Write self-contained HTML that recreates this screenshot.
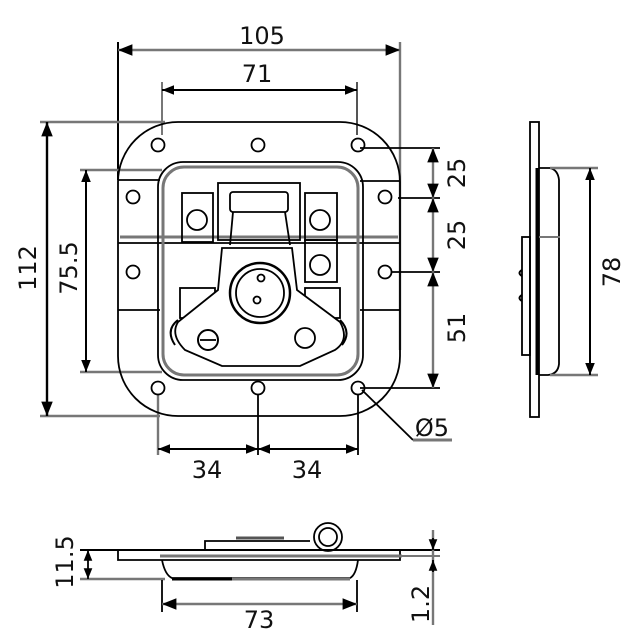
<!DOCTYPE html>
<html><head><meta charset="utf-8"><style>
html,body{margin:0;padding:0;background:#fff;}
svg{display:block;}
text{font-family:"DejaVu Sans","Liberation Sans",sans-serif;font-size:24px;fill:#111;}
</style></head><body>
<svg width="627" height="640" viewBox="0 0 627 640" xmlns="http://www.w3.org/2000/svg">
<defs>
<marker id="a" viewBox="0 0 10 10" refX="10" refY="5" markerWidth="6" markerHeight="6" orient="auto-start-reverse"><path d="M0,1 L10,5 L0,9 z" fill="#000"/></marker>
</defs>
<g fill="none" stroke="#000" stroke-width="1.8">
<line x1="118" y1="42" x2="118" y2="180" stroke-width="2"/>
<line x1="400" y1="42" x2="400" y2="350" stroke="#777" stroke-width="2.4"/>
<line x1="162" y1="82" x2="162" y2="135" stroke="#777" stroke-width="2"/>
<line x1="357" y1="82" x2="357" y2="135" stroke="#555" stroke-width="2"/>
<line x1="40" y1="122" x2="165" y2="122" stroke="#777" stroke-width="2.4"/>
<line x1="40" y1="416" x2="160" y2="416" stroke="#777" stroke-width="2.4"/>
<line x1="80" y1="170" x2="162" y2="170" stroke="#777" stroke-width="2.4"/>
<line x1="80" y1="372" x2="162" y2="372" stroke="#777" stroke-width="2.4"/>
<line x1="360" y1="148" x2="440" y2="148"/>
<line x1="398" y1="198" x2="440" y2="198"/>
<line x1="392" y1="272" x2="440" y2="272"/>
<line x1="360" y1="388" x2="440" y2="388"/>
<line x1="158" y1="395" x2="158" y2="455" stroke="#777" stroke-width="2.4"/>
<line x1="258" y1="395" x2="258" y2="455"/>
<line x1="358" y1="395" x2="358" y2="455"/>
<line x1="118" y1="50" x2="400" y2="50" stroke="#777" stroke-width="2.4" marker-start="url(#a)" marker-end="url(#a)"/>
<line x1="162" y1="90" x2="357" y2="90" stroke-width="2" marker-start="url(#a)" marker-end="url(#a)"/>
<line x1="47" y1="122" x2="47" y2="416" stroke-width="2.4" marker-start="url(#a)" marker-end="url(#a)"/>
<line x1="86" y1="170" x2="86" y2="372" stroke-width="2" marker-start="url(#a)" marker-end="url(#a)"/>
<line x1="433" y1="148" x2="433" y2="198" stroke="#777" stroke-width="2.4" marker-start="url(#a)" marker-end="url(#a)"/>
<line x1="433" y1="198" x2="433" y2="272" stroke="#777" stroke-width="2.4" marker-start="url(#a)" marker-end="url(#a)"/>
<line x1="433" y1="272" x2="433" y2="388" stroke="#777" stroke-width="2.4" marker-start="url(#a)" marker-end="url(#a)"/>
<line x1="158" y1="449" x2="258" y2="449" stroke-width="2" marker-start="url(#a)" marker-end="url(#a)"/>
<line x1="258" y1="449" x2="358" y2="449" stroke-width="2" marker-start="url(#a)" marker-end="url(#a)"/>
<polyline points="362,390 413,440"/>
<line x1="413" y1="440" x2="452" y2="440" stroke="#777" stroke-width="3"/>
<rect x="118" y="122" width="282" height="294" rx="60" ry="60"/>
<line x1="118" y1="180" x2="160" y2="180"/>
<line x1="120" y1="237" x2="398" y2="237" stroke="#777" stroke-width="3"/>
<line x1="118" y1="243" x2="400" y2="243"/>
<line x1="118" y1="310" x2="160" y2="310"/>
<line x1="360" y1="310" x2="400" y2="310"/>
<line x1="360" y1="181" x2="400" y2="181"/>
<rect x="158" y="162" width="205" height="218" rx="25"/>
<rect x="163" y="167" width="195" height="208" rx="21" stroke="#777" stroke-width="3"/>
<g>
<circle cx="158" cy="145" r="6.5"/><circle cx="258" cy="145" r="6.5"/><circle cx="358" cy="145" r="6.5"/>
<circle cx="133" cy="197" r="6.5"/><circle cx="385" cy="197" r="6.5"/>
<circle cx="133" cy="272" r="6.5"/><circle cx="385" cy="272" r="6.5"/>
<circle cx="158" cy="388" r="6.5"/><circle cx="258" cy="388" r="6.5"/><circle cx="358" cy="388" r="6.5"/>
</g>
<rect x="218" y="183" width="82" height="57"/>
<rect x="230" y="192" width="58" height="20" rx="3"/>
<polyline points="233,212 230,245"/><polyline points="285,212 290,245"/>
<rect x="182" y="193" width="31" height="49"/>
<circle cx="197" cy="220" r="10"/>
<rect x="305" y="193" width="32" height="47"/>
<circle cx="320" cy="220" r="10"/>
<rect x="305" y="240" width="32" height="42"/>
<circle cx="320" cy="265" r="10"/>
<rect x="180" y="288" width="35" height="30"/>
<rect x="305" y="288" width="35" height="30"/>
<path d="M222,248 L292,248 L297,290 L340,322 Q350,340 335,350 L300,366 L222,366 L185,350 Q170,335 178,322 L218,290 Z" fill="#fff"/>
<path d="M178,320 Q165,330 175,345 M340,320 Q352,332 342,345" stroke-width="2"/>
<circle cx="260" cy="293" r="30" stroke-width="2.5"/>
<circle cx="260" cy="293" r="24"/>
<circle cx="261" cy="278" r="3.5"/><circle cx="257" cy="300" r="3.5"/>
<circle cx="208" cy="340" r="10" stroke-width="2"/><line x1="200" y1="340" x2="216" y2="340"/>
<circle cx="305" cy="338" r="10"/>
<rect x="530" y="122" width="9" height="295"/>
<line x1="537" y1="168" x2="537" y2="375" stroke-width="3"/>
<path d="M539,168 L550,168 Q558,170 559,180 L559,364 Q558,374 548,375 L539,375"/>
<line x1="539" y1="237" x2="560" y2="237" stroke="#777" stroke-width="2"/>
<rect x="522" y="237" width="8" height="118"/>
<path d="M522,270 q-5,3 0,6 M522,295 q-5,3 0,6" stroke-width="2"/>
<line x1="550" y1="168" x2="598" y2="168" stroke="#777" stroke-width="2.4"/>
<line x1="550" y1="375" x2="598" y2="375" stroke="#777" stroke-width="2.4"/>
<line x1="590" y1="168" x2="590" y2="375" stroke-width="2" marker-start="url(#a)" marker-end="url(#a)"/>
<line x1="80" y1="550" x2="440" y2="550" stroke-width="2"/>
<polyline points="118,550 118,560 400,560 400,550"/>
<line x1="160" y1="556" x2="402" y2="556" stroke="#777" stroke-width="3"/>
<line x1="400" y1="556" x2="440" y2="556" stroke="#777" stroke-width="2"/>
<path d="M162,560 Q165,575 172,578 L350,578 Q356,575 358,560"/>
<line x1="80" y1="579" x2="165" y2="579" stroke="#777" stroke-width="2.4"/>
<line x1="172" y1="579" x2="232" y2="579" stroke-width="3"/>
<line x1="232" y1="579" x2="350" y2="579" stroke="#777" stroke-width="3"/>
<polyline points="205,550 205,541 310,541"/>
<line x1="236" y1="538" x2="284" y2="538" stroke="#555" stroke-width="3"/>
<circle cx="328" cy="537" r="14"/><circle cx="328" cy="537" r="9"/>
<line x1="162" y1="580" x2="162" y2="612"/>
<line x1="357" y1="580" x2="357" y2="612"/>
<line x1="162" y1="604" x2="357" y2="604" stroke="#777" stroke-width="2.4" marker-start="url(#a)" marker-end="url(#a)"/>
<line x1="88" y1="550" x2="88" y2="579" marker-start="url(#a)" marker-end="url(#a)"/>
<line x1="433" y1="530" x2="433" y2="625" stroke="#777" stroke-width="2.4"/>
<line x1="433" y1="538" x2="433" y2="550" marker-end="url(#a)"/>
<line x1="433" y1="572" x2="433" y2="560" marker-end="url(#a)"/>
</g>
<text x="262" y="44" text-anchor="middle">105</text>
<text x="257" y="82" text-anchor="middle">71</text>
<text transform="translate(36,268) rotate(-90)" text-anchor="middle">112</text>
<text transform="translate(77,268) rotate(-90)" text-anchor="middle">75.5</text>
<text transform="translate(465,173) rotate(-90)" text-anchor="middle">25</text>
<text transform="translate(465,235) rotate(-90)" text-anchor="middle">25</text>
<text transform="translate(465,328) rotate(-90)" text-anchor="middle">51</text>
<text x="207" y="478" text-anchor="middle">34</text>
<text x="307" y="478" text-anchor="middle">34</text>
<text x="432" y="436" text-anchor="middle">Ø5</text>
<text transform="translate(620,272) rotate(-90)" text-anchor="middle">78</text>
<text transform="translate(73,562) rotate(-90)" text-anchor="middle">11.5</text>
<text x="259" y="628" text-anchor="middle">73</text>
<text transform="translate(429,604) rotate(-90)" text-anchor="middle">1.2</text>
</svg>
</body></html>
